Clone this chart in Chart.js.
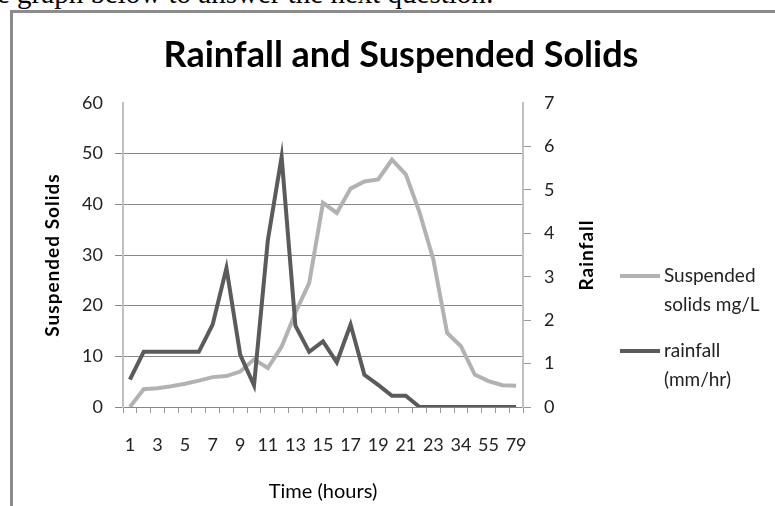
<!DOCTYPE html>
<html>
<head>
<meta charset="utf-8">
<script src="https://cdn.jsdelivr.net/npm/chart.js@4.4.0/dist/chart.umd.min.js"></script>
<style>
	html, body { margin: 0; padding: 0; background: #fff; overflow: hidden; }
	#question { position: absolute; left: -3px; top: -21px; font: 29px/29px "Liberation Serif", serif; white-space: nowrap; color: #000; }
	#frame { position: absolute; left: 10px; top: 10px; width: 900px; height: 700px; border-left: 3px solid #8c8c8c; border-top: 3px solid #8c8c8c; }
	#wrap { position: absolute; left: 0; top: 0; width: 775px; height: 506px; }
</style>
</head>
<body>
<div id="question">e graph below to answer the next question:</div>
<div id="frame"></div>
<div id="wrap"><canvas id="rainChart" width="775" height="506"></canvas></div>
<script>
const chartTitle = "Rainfall and Suspended Solids";
const hours = ["1", "2", "3", "4", "5", "6", "7", "8", "9", "10", "11", "12", "13", "14", "15", "16",
	"17", "18", "19", "20", "21", "22", "23", "28", "34", "45", "55", "67", "79"];
const suspendedSolids = [0, 3.5, 3.7, 4.1, 4.6, 5.2, 5.9, 6.1, 7.0, 9.4, 7.7, 11.9, 18.6, 24.5, 40.3,
	38.3, 43.1, 44.5, 44.9, 48.8, 45.9, 38.4, 29.1, 14.6, 12.0, 6.4, 5.1, 4.3, 4.2];
const rainfall = [0.63, 1.27, 1.27, 1.27, 1.27, 1.27, 1.9, 3.2, 1.2, 0.5, 3.84, 5.76, 1.87, 1.27, 1.51,
	1.03, 1.9, 0.74, 0.51, 0.26, 0.26, 0, 0, 0, 0, 0, 0, 0, 0];
const solidsTicks = { min: 0, max: 60, step: 10 };
const rainTicks = { min: 0, max: 7, step: 1 };
const legendLines = [["Suspended", "solids mg/L"], ["rainfall", "(mm/hr)"]];

const gridGrey = "#878787";
const tickFont = { family: "Lato", size: 18 };

// title, the two rotated axis titles and the legend on the right
const chartText = {
	id: "chartText",
	afterDraw(chart) {
		const ctx = chart.ctx;
		const area = chart.chartArea;
		const midY = (area.top + area.bottom) / 2;
		ctx.save();
		ctx.fillStyle = "#000";
		ctx.textAlign = "center";
		ctx.textBaseline = "alphabetic";
		ctx.font = "bold 36px Lato";
		ctx.fillText(chartTitle, 401, 67);

		ctx.font = "bold 19px Lato";
		ctx.textBaseline = "middle";
		if ("letterSpacing" in ctx) ctx.letterSpacing = "1px";
		[[53, "Suspended Solids"], [587, "Rainfall"]].forEach(([x, text]) => {
			ctx.save();
			ctx.translate(x, midY);
			ctx.rotate(-Math.PI / 2);
			ctx.fillText(text, 0, 0);
			ctx.restore();
		});
		if ("letterSpacing" in ctx) ctx.letterSpacing = "0px";

		ctx.font = "19px Lato";
		ctx.textAlign = "left";
		const legendY = [276, 351];
		chart.data.datasets.forEach((ds, i) => {
			ctx.strokeStyle = ds.borderColor;
			ctx.lineWidth = 4;
			ctx.beginPath();
			ctx.moveTo(620, legendY[i]);
			ctx.lineTo(660, legendY[i]);
			ctx.stroke();
			ctx.fillStyle = "#222";
			legendLines[i].forEach((line, j) => {
				ctx.fillText(line, 664, legendY[i] + j * 29);
			});
		});
		ctx.restore();
	},
};

const canvas = document.getElementById("rainChart");
new Chart(canvas, {
	type: "line",
	data: {
		labels: hours,
		datasets: [
			{
				label: "Suspended solids mg/L",
				data: suspendedSolids,
				yAxisID: "y",
				borderColor: "#b2b2b2",
				borderWidth: 4,
				pointRadius: 0,
				tension: 0,
				order: 1,
			},
			{
				label: "rainfall (mm/hr)",
				data: rainfall,
				yAxisID: "y2",
				borderColor: "#5b5b5b",
				borderWidth: 4,
				pointRadius: 0,
				tension: 0,
				order: 0,
			},
		],
	},
	options: {
		responsive: false,
		animation: false,
		layout: { padding: { top: 103 } },
		scales: {
			x: {
				offset: true,
				afterFit: (s) => { s.height = 99; },
				border: { color: gridGrey },
				grid: { drawOnChartArea: false, drawTicks: true, tickLength: 6, color: "#9a9a9a", offset: true },
				ticks: {
					autoSkip: false,
					maxRotation: 0,
					padding: 21,
					color: "#222",
					font: tickFont,
					callback: function (value, index) {
						return index % 2 === 0 ? this.getLabelForValue(value) : "";
					},
				},
				title: {
					display: true,
					text: "Time (hours)",
					color: "#000",
					font: { family: "Lato", size: 20 },
					padding: { top: 0, bottom: 2 },
				},
			},
			y: {
				position: "left",
				min: solidsTicks.min,
				max: solidsTicks.max,
				afterFit: (s) => { s.width = 123; },
				border: { color: "#c0c0c0", width: 2 },
				grid: {
					color: (c) => (c.tick && c.tick.value === solidsTicks.max ? "rgba(0,0,0,0)" : gridGrey),
					tickLength: 8,
				},
				ticks: { stepSize: solidsTicks.step, padding: 12, color: "#222", font: tickFont },
			},
			y2: {
				position: "right",
				min: rainTicks.min,
				max: rainTicks.max,
				afterFit: (s) => { s.width = 252; },
				border: { color: "#c0c0c0", width: 2 },
				grid: {
					drawOnChartArea: false,
					tickLength: 8,
					color: (c) => (c.tick && c.tick.value === rainTicks.max ? "rgba(0,0,0,0)" : "#9a9a9a"),
				},
				ticks: { stepSize: rainTicks.step, padding: 13, color: "#222", font: tickFont },
			},
		},
		plugins: {
			legend: { display: false },
			tooltip: { enabled: false },
		},
	},
	plugins: [chartText],
});
</script>
</body>
</html>
